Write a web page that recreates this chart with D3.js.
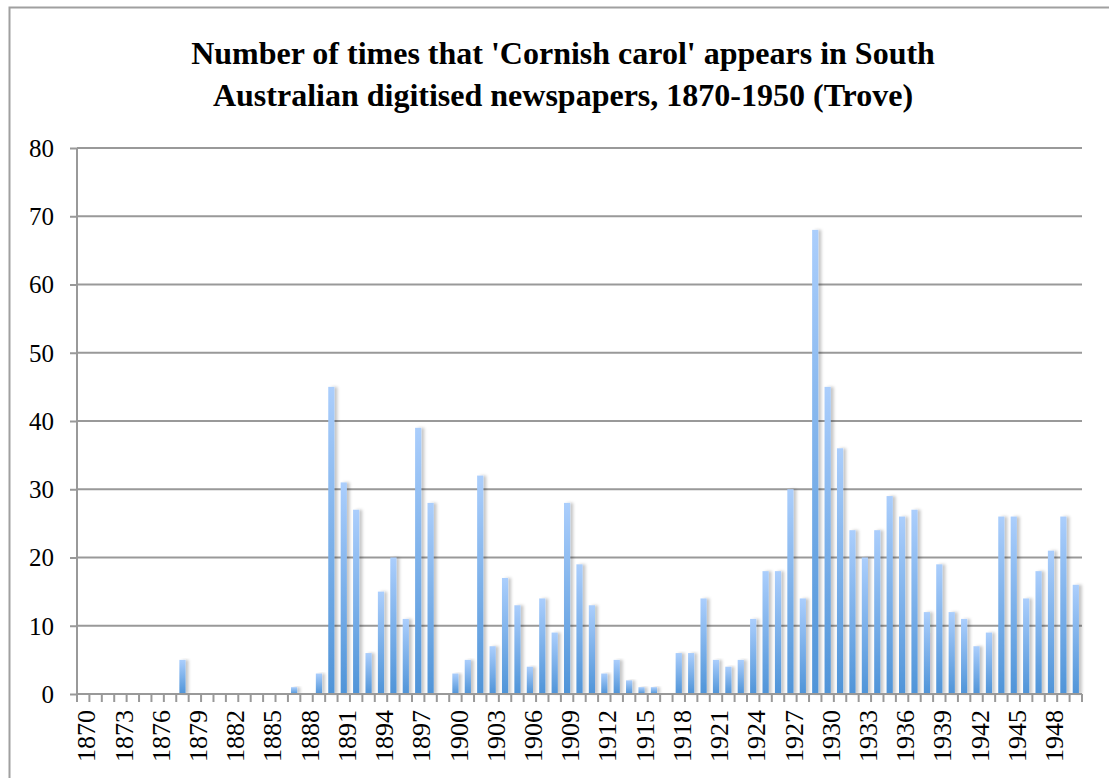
<!DOCTYPE html>
<html>
<head>
<meta charset="utf-8">
<script src="https://cdn.jsdelivr.net/npm/d3@7"></script>
<style>
  body { margin: 0; background: #fff; }
  svg { display: block; font-family: "Liberation Serif", "Times New Roman", serif; }
</style>
</head>
<body>
<svg id="chart"></svg>
<script>
// years 1870-1950, counts
var years = d3.range(1870, 1951);
var counts = [
  0, 0, 0, 0, 0, 0, 0, 0, 5, 0,      // 1870-1879
  0, 0, 0, 0, 0, 0, 0, 1, 0, 3,      // 1880-1889
  45, 31, 27, 6, 15, 20, 11, 39, 28, 0, // 1890-1899
  3, 5, 32, 7, 17, 13, 4, 14, 9, 28, // 1900-1909
  19, 13, 3, 5, 2, 1, 1, 0, 6, 6,    // 1910-1919
  14, 5, 4, 5, 11, 18, 18, 30, 14, 68, // 1920-1929
  45, 36, 24, 20, 24, 29, 26, 27, 12, 19, // 1930-1939
  12, 11, 7, 9, 26, 26, 14, 18, 21, 26, // 1940-1949
  16                                  // 1950
];
var yTicks = [0, 10, 20, 30, 40, 50, 60, 70, 80];
var titleLines = [
  "Number of times that 'Cornish carol' appears in South",
  "Australian digitised newspapers, 1870-1950 (Trove)"
];

var W = 1109, H = 778;
var margin = { top: 148, right: 27, bottom: 84, left: 77 },
  width = W - margin.left - margin.right,
  height = H - margin.top - margin.bottom;

var svg = d3.select("#chart").attr("width", W).attr("height", H);

var defs = svg.append("defs");
var grad = defs.append("linearGradient")
  .attr("id", "barGrad").attr("x1", 0).attr("y1", 0).attr("x2", 0).attr("y2", 1);
grad.append("stop").attr("offset", "0%").attr("stop-color", "#abcefc");
grad.append("stop").attr("offset", "100%").attr("stop-color", "#4f94d8");

var shadow = defs.append("filter").attr("id", "shadow")
  .attr("x", "-50%").attr("y", "-5%").attr("width", "250%").attr("height", "110%");
shadow.append("feDropShadow")
  .attr("dx", 3).attr("dy", 0).attr("stdDeviation", 1.8)
  .attr("flood-color", "#000").attr("flood-opacity", 0.22);

// outer frame
svg.append("path")
  .attr("d", "M9.5," + H + " V7.5 H" + W)
  .attr("fill", "none").attr("stroke", "#a0a0a0").attr("stroke-width", 2);

// title
svg.append("g").selectAll("text")
  .data(titleLines)
  .enter().append("text")
  .attr("x", 563)
  .attr("y", (d, i) => 64 + i * 42)
  .attr("text-anchor", "middle")
  .style("font-weight", "bold")
  .style("font-size", "32px")
  .text((d) => d);

var g = svg.append("g")
  .attr("transform", "translate(" + margin.left + "," + margin.top + ")");

var x = d3.scaleBand().domain(years).range([0, width]).paddingInner(0.5).paddingOuter(0.25);
var y = d3.scaleLinear().domain([0, 80]).range([height, 0]);

// gridlines
g.append("g").selectAll("line")
  .data(yTicks.filter((d) => d > 0))
  .enter().append("line")
  .attr("x1", 0).attr("x2", width)
  .attr("y1", (d) => y(d)).attr("y2", (d) => y(d))
  .attr("stroke", "#999").attr("stroke-width", 2);

// bars
g.append("g").selectAll("rect")
  .data(years)
  .enter().append("rect")
  .attr("x", (d) => x(d))
  .attr("width", x.bandwidth())
  .attr("y", (d, i) => y(counts[i]))
  .attr("height", (d, i) => height - y(counts[i]))
  .attr("fill", "url(#barGrad)")
  .attr("filter", "url(#shadow)");

// y axis
var yAxis = g.append("g")
  .call(d3.axisLeft(y).tickValues(yTicks).tickSize(7).tickPadding(16));
yAxis.select(".domain").attr("stroke", "#999").attr("stroke-width", 2).attr("d", "M0," + height + "V0");
yAxis.selectAll(".tick line").attr("stroke", "#999").attr("stroke-width", 2);
yAxis.selectAll("text")
  .style("font-size", "25px")
  .style("font-family", "Liberation Serif, serif")
  .attr("dy", "0.33em")
  .attr("fill", "#000");

// x axis: ticks on category boundaries
var step = width / years.length;
var xBase = g.append("g").attr("transform", "translate(0," + height + ")");
xBase.append("line")
  .attr("x1", 0).attr("x2", width)
  .attr("stroke", "#999").attr("stroke-width", 2);
xBase.selectAll("line.tk")
  .data(d3.range(0, years.length + 1))
  .enter().append("line")
  .attr("class", "tk")
  .attr("x1", (d) => d * step).attr("x2", (d) => d * step)
  .attr("y1", 0).attr("y2", 8)
  .attr("stroke", "#999").attr("stroke-width", 2);

xBase.selectAll("text")
  .data(years.filter((d) => (d - 1870) % 3 === 0))
  .enter().append("text")
  .attr("transform", (d) =>
    "translate(" + (x(d) + x.bandwidth() / 2 + 3) + ",16) rotate(-90)")
  .attr("text-anchor", "end")
  .attr("dy", "0.35em")
  .style("font-size", "26px")
  .text((d) => d);
</script>
</body>
</html>
